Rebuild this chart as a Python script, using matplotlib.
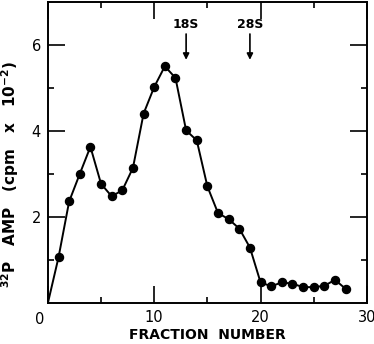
import numpy as np
import matplotlib
matplotlib.use("Agg")
import matplotlib.pyplot as plt

plt.rcParams.update({'font.family': 'DejaVu Sans', 'font.size': 10})
plt.rcParams['mathtext.default'] = 'bf'

# fraction number vs 32P AMP (cpm x 10^-2); the curve starts at the origin
fraction = [0, 1, 2, 3, 4, 5, 6, 7, 8, 9, 10, 11, 12, 13, 14,
            15, 16, 17, 18, 19, 20, 21, 22, 23, 24, 25, 26, 27, 28]
amp = [0.0, 1.06, 2.36, 3.00, 3.63, 2.77, 2.48, 2.62, 3.14, 4.40, 5.02, 5.50, 5.23, 4.01, 3.78,
       2.71, 2.09, 1.95, 1.73, 1.29, 0.48, 0.39, 0.48, 0.45, 0.37, 0.37, 0.40, 0.54, 0.33]

# sedimentation markers
marker_names = ['18S', '28S']
marker_pos = [13, 19]

fig = plt.figure(figsize=(3.74, 3.44), dpi=100)
ax = fig.add_axes([0.128, 0.119, 0.853, 0.876])

ax.plot(fraction, amp, color='black', linewidth=1.4, marker='o', markersize=5.8,
        markevery=list(range(1, len(fraction))))

for name, pos in zip(marker_names, marker_pos):
    ax.annotate('', xy=(pos, 5.65), xytext=(pos, 6.25),
                arrowprops=dict(arrowstyle='-|>', color='black', lw=1.2,
                                mutation_scale=9, shrinkA=0, shrinkB=0))
    ax.text(pos, 6.48, name, ha='center', va='center', fontsize=9, fontweight='bold')

ax.set_xlim(0, 30)
ax.set_ylim(0, 7)
ax.set_xticks([0, 10, 20, 30])
ax.set_xticks([5, 15, 25], minor=True)
ax.set_yticks([2, 4, 6])
ax.set_yticks([1, 3, 5], minor=True)
ax.set_xticklabels(['0', '10', '20', '30'], fontsize=10.5)
ax.set_yticklabels(['2', '4', '6'], fontsize=10.5)
ax.text(-0.025, -0.03, '0', transform=ax.transAxes, ha='center', va='top', fontsize=10.5)
ax.get_xticklabels()[0].set_visible(False)

ax.tick_params(which='both', direction='in', top=True, right=True, width=1.2)
ax.tick_params(which='major', length=12, pad=5)
ax.tick_params(which='minor', length=4)
for s in ax.spines.values():
    s.set_linewidth(1.4)

ax.set_xlabel('FRACTION  NUMBER', fontsize=10, fontweight='bold', labelpad=2)
ax.set_ylabel(r'$^{32}$P   AMP   (cpm   x   10$^{-2}$)', fontsize=11, fontweight='bold')
ax.yaxis.set_label_coords(-0.084, 0.425)

fig.savefig('out.png', dpi=100)
